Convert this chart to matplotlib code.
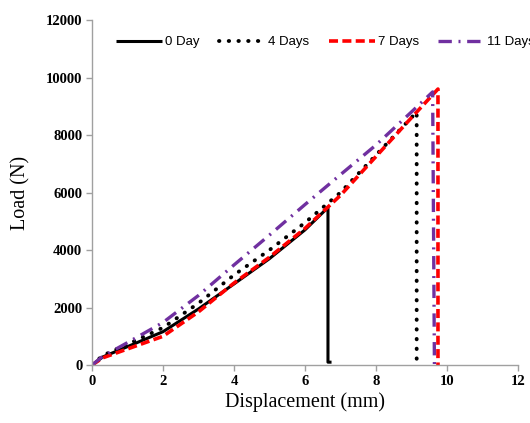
import matplotlib
matplotlib.use("Agg")
import matplotlib.pyplot as plt

# 0 Day
x0 = [0.0, 0.3, 1.0, 2.0, 3.0, 4.0, 5.0, 6.0, 6.65, 6.65, 6.75]
y0 = [0, 280, 640, 1160, 1950, 2820, 3700, 4700, 5480, 100, 100]
# 4 Days
x4 = [0.0, 0.3, 1.0, 2.0, 3.0, 4.0, 5.0, 6.0, 7.0, 8.0, 9.15, 9.15]
y4 = [0, 330, 720, 1300, 2150, 3130, 4000, 4950, 6000, 7300, 8800, 0]
# 7 Days
x7 = [0.0, 0.3, 1.0, 2.0, 3.0, 4.0, 5.0, 6.0, 7.0, 8.0, 9.0, 9.75, 9.75]
y7 = [0, 250, 560, 1000, 1850, 2850, 3750, 4750, 5900, 7250, 8600, 9600, 0]
# 11 Days
x11 = [0.0, 0.3, 1.0, 2.0, 3.0, 4.0, 5.0, 6.0, 7.0, 8.0, 9.0, 9.6, 9.65]
y11 = [0, 300, 780, 1480, 2420, 3480, 4520, 5580, 6620, 7650, 8800, 9500, 0]

labels = ["0 Day", "4 Days", "7 Days", "11 Days"]

fig = plt.figure(figsize=(5.30, 4.23), dpi=100)
ax = fig.add_axes([0.1736, 0.137, 0.8034, 0.8156])

ax.plot(x0, y0, color="black", lw=2.2, solid_capstyle="butt", label=labels[0])
ax.plot(x4, y4, color="black", lw=2.8, linestyle=(0, (0.1, 2.4)), dash_capstyle="round", label=labels[1])
ax.plot(x7, y7, color="#ff0000", lw=2.6, linestyle=(0, (2.5, 1.2)), label=labels[2])
ax.plot(x11, y11, color="#7030a0", lw=2.4, linestyle=(0, (4, 2, 0.6, 2)), label=labels[3])

ax.set_xlim(0, 12)
ax.set_ylim(0, 12000)
ax.set_xticks(range(0, 13, 2))
ax.set_yticks(range(0, 12001, 2000))
for s in ["top", "right"]:
    ax.spines[s].set_visible(False)
for s in ["left", "bottom"]:
    ax.spines[s].set_color("#a0a0a0")
    ax.spines[s].set_linewidth(1.0)
ax.tick_params(axis="both", direction="out", length=4, color="#a0a0a0", width=1.0, pad=3)
for lab in ax.get_xticklabels() + ax.get_yticklabels():
    lab.set_fontfamily("Liberation Serif")
    lab.set_fontweight("bold")
    lab.set_fontsize(10.5)

ax.set_xlabel("Displacement (mm)", fontfamily="Liberation Serif", fontsize=14.5, labelpad=3)
ax.set_ylabel("Load (N)", fontfamily="Liberation Serif", fontsize=14.5, labelpad=11)

leg = ax.legend(loc="center left", bbox_to_anchor=(0.056, 0.936), ncol=4, frameon=False,
                prop={"family": "Liberation Sans", "size": 9.5}, handlelength=3.5,
                handletextpad=0.2, columnspacing=1.5, borderaxespad=0, borderpad=0)

fig.savefig("out.png", dpi=100)
